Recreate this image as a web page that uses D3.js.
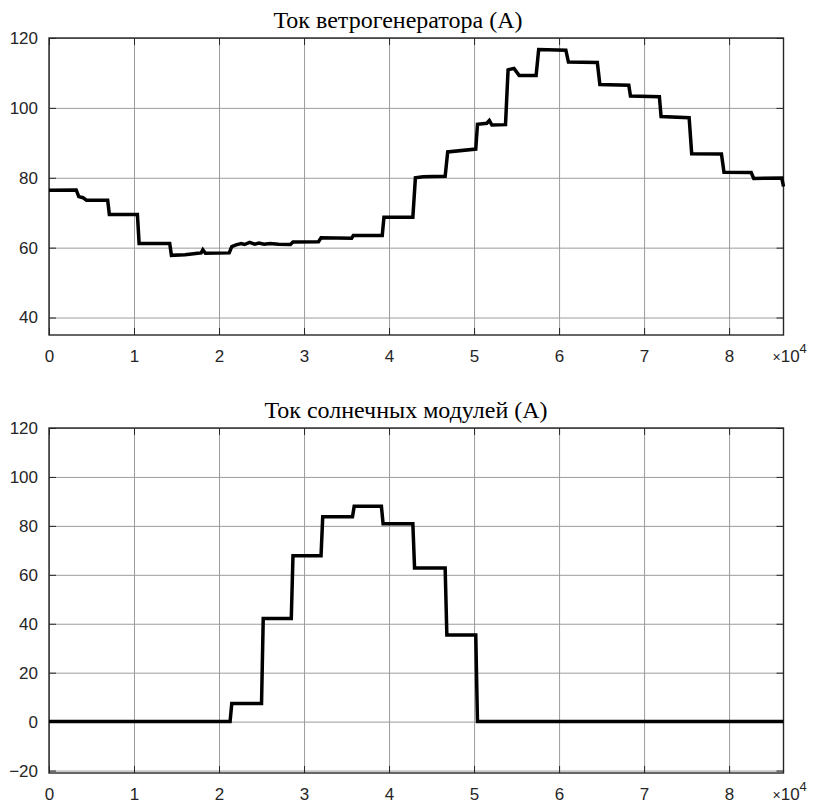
<!DOCTYPE html>
<html>
<head>
<meta charset="utf-8">
<script src="https://cdn.jsdelivr.net/npm/d3@7"></script>
<style>
  body { margin: 0; background: #fff; }
</style>
</head>
<body>
<svg id="chart"></svg>
<script>
// wind generator current (A), time in seconds
const windTime = [0, 3200, 3500, 4000, 4400, 6900, 7100, 10400, 10600, 14200, 14400, 16000, 17500, 17900, 18100, 18400,
  21200, 21500, 22000, 22600, 23000, 23600, 24200, 24700, 25300, 26000, 27000, 28400, 28700, 31700, 32000, 35600,
  35800, 39200, 39400, 42800, 43100, 44000, 46600, 46900, 50200, 50400, 51500, 51800, 52100, 53700, 54000, 54700,
  55300, 57300, 57600, 60800, 61100, 64500, 64800, 68200, 68400, 71800, 72000, 75300, 75600, 79100, 79400, 82600,
  82900, 86200, 86400]
const windCurrent = [76.4, 76.5, 74.6, 74.3, 73.6, 73.6, 69.5, 69.5, 61.2, 61.2, 57.8, 58.0, 58.4, 58.5, 59.4, 58.4,
  58.5, 60.3, 60.8, 61.2, 60.9, 61.5, 61.0, 61.3, 61.0, 61.2, 61.0, 60.9, 61.6, 61.7, 62.8, 62.7,
  63.5, 63.5, 68.7, 68.7, 80.0, 80.3, 80.4, 87.4, 88.2, 95.3, 95.6, 96.4, 95.1, 95.2, 110.9, 111.3,
  109.3, 109.3, 116.7, 116.5, 113.1, 113.0, 106.7, 106.5, 103.4, 103.2, 97.5, 97.2, 86.9, 86.8, 81.6, 81.5,
  79.8, 79.9, 77.5]

// solar modules current (A)
const solarTime = [0, 21300, 21500, 25000, 25200, 28500, 28700, 32000, 32200, 35700, 35900, 39100, 39300, 42800,
  43000, 46600, 46800, 50200, 50400, 86400]
const solarCurrent = [0, 0, 7.4, 7.4, 42.1, 42.1, 67.8, 67.8, 83.7, 83.7, 88.0, 88.0, 80.9, 80.9,
  62.8, 62.8, 35.4, 35.4, 0, 0]

const xTicks = [0, 10000, 20000, 30000, 40000, 50000, 60000, 70000, 80000]
const windTicks = [40, 60, 80, 100, 120]
const solarTicks = [-20, 0, 20, 40, 60, 80, 100, 120]
const titles = ["Ток ветрогенератора (А)", "Ток солнечных модулей (А)"]

const width = 818, height = 803
const svg = d3.select("#chart")
  .attr("width", width)
  .attr("height", height)
  .style("font-family", "'Liberation Sans', Arial, sans-serif")

const left = 49, right = 783.5

const x = d3.scaleLinear()
  .domain([0, 86400])
  .range([left, right])

function panel(top, bottom, yDomain, yTicks, times, values, title, titleX, titleY) {
  const y = d3.scaleLinear().domain(yDomain).range([bottom, top])
  const g = svg.append("g")

  // grid
  g.append("g")
    .attr("transform", `translate(0,${bottom})`)
    .call(d3.axisBottom(x).tickValues(xTicks).tickSize(-(bottom - top)).tickFormat(""))
    .call(s => s.select(".domain").remove())
    .selectAll("line").attr("stroke", "#9c9c9c").attr("stroke-width", 1)
  g.append("g")
    .attr("transform", `translate(${left},0)`)
    .call(d3.axisLeft(y).tickValues(yTicks).tickSize(-(right - left)).tickFormat(""))
    .call(s => s.select(".domain").remove())
    .selectAll("line").attr("stroke", "#9c9c9c").attr("stroke-width", 1)

  // inner ticks and labels
  g.append("g")
    .attr("transform", `translate(0,${bottom})`)
    .call(d3.axisBottom(x).tickValues(xTicks).tickSize(-7).tickPadding(15)
      .tickFormat(function (d) { return d / 10000 }))
  g.append("g")
    .attr("transform", `translate(${left},0)`)
    .call(d3.axisLeft(y).tickValues(yTicks).tickSize(-7).tickPadding(11))
  g.append("g")
    .attr("transform", `translate(0,${top})`)
    .call(d3.axisTop(x).tickValues(xTicks).tickSize(-7).tickFormat(""))
  g.append("g")
    .attr("transform", `translate(${right},0)`)
    .call(d3.axisRight(y).tickValues(yTicks).tickSize(-7).tickFormat(""))

  g.selectAll(".domain").remove()
  g.selectAll(".tick line").filter(function () { return +d3.select(this).attr("stroke-width") !== 1 })
    .attr("stroke", "#262626")
  g.selectAll("text")
    .attr("fill", "#262626")
    .style("font-size", "17px")
    .style("font-family", "'Liberation Sans', Arial, sans-serif")

  // frame
  g.append("rect")
    .attr("x", left)
    .attr("y", top)
    .attr("width", right - left)
    .attr("height", bottom - top)
    .attr("fill", "none")
    .attr("stroke", "#262626")
    .attr("stroke-width", 1.4)

  // exponent label
  const exp = g.append("text")
    .attr("x", right - 11)
    .attr("y", bottom + 27)
    .attr("fill", "#262626")
    .style("font-size", "17px")
  exp.append("tspan").text("×").style("font-size", "14px")
  exp.append("tspan").text("10")
  exp.append("tspan").text("4").attr("dy", -9).style("font-size", "13px")

  // series
  const pts = times.map(function (t, i) { return [t, values[i]] })
  g.append("path")
    .datum(pts)
    .attr("d", d3.line()
      .x(function (d) { return x(d[0]) })
      .y(function (d) { return y(d[1]) })
    )
    .attr("fill", "none")
    .attr("stroke", "#000")
    .attr("stroke-width", 3.5)

  // title
  g.append("text")
    .attr("x", titleX)
    .attr("y", titleY)
    .attr("text-anchor", "middle")
    .style("font-family", "'Liberation Serif', 'Times New Roman', serif")
    .style("font-size", "24px")
    .attr("fill", "#000")
    .text(title)
}

panel(38, 335, [35, 120], windTicks, windTime, windCurrent, titles[0], 398, 28)
panel(428, 773, [-21, 120], solarTicks, solarTime, solarCurrent, titles[1], 406, 418)
</script>
</body>
</html>
